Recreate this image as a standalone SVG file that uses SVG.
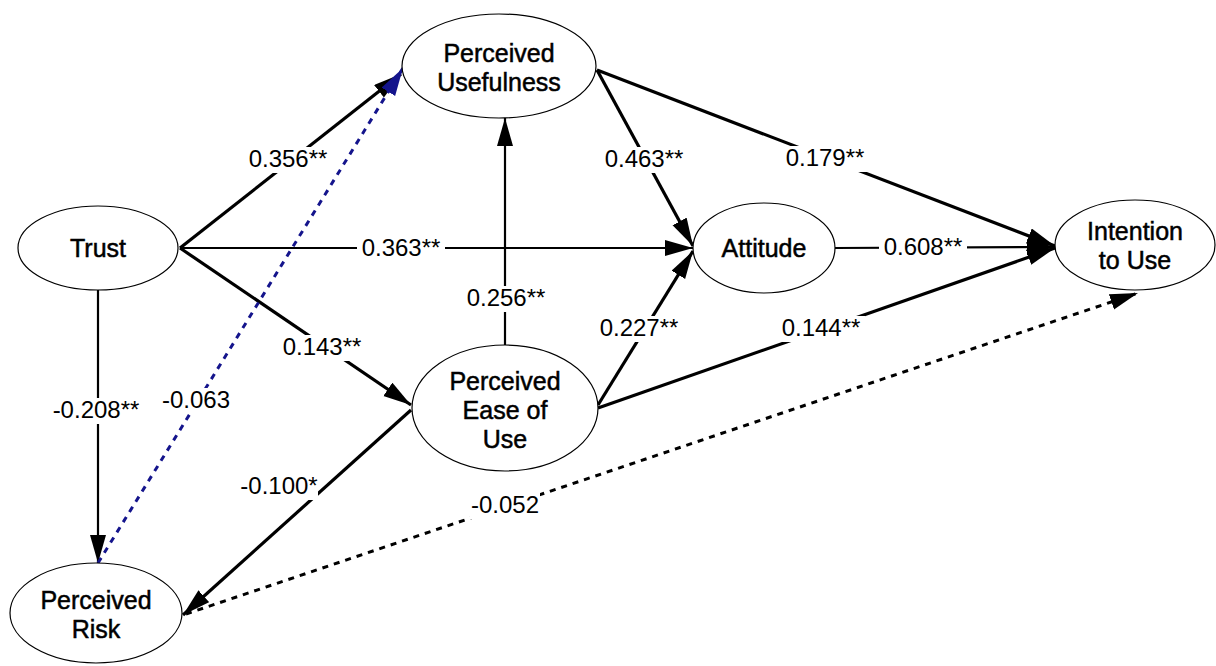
<svg xmlns="http://www.w3.org/2000/svg" width="1216" height="666" viewBox="0 0 1216 666">
<style>
.node ellipse{fill:#fff;stroke:#000;stroke-width:1.2}
.node text{font-family:"Liberation Sans",Arial,sans-serif;font-size:25px;text-anchor:middle;fill:#000;stroke:#000;stroke-width:0.5}
.lbl{font-family:"Liberation Sans",Arial,sans-serif;font-size:24px;text-anchor:middle;fill:#000}
.bg{fill:#fff}
.thick{stroke:#000;stroke-width:3.2;fill:none}
.thin{stroke:#000;stroke-width:2.2;fill:none}
.dot{stroke:#000;stroke-width:3;stroke-dasharray:6 6;fill:none}
.blue{stroke:#14148c;stroke-width:3;stroke-dasharray:6 6;fill:none}
</style>
<defs>
<marker id="ah" markerUnits="userSpaceOnUse" markerWidth="30" markerHeight="18" refX="28" refY="8" orient="auto"><path d="M0,0 L28,8 L0,16 z" fill="#000"/></marker>
<marker id="ahb" markerUnits="userSpaceOnUse" markerWidth="30" markerHeight="18" refX="28" refY="8" orient="auto"><path d="M0,0 L28,8 L0,16 z" fill="#14148c"/></marker>
</defs>
<rect width="1216" height="666" fill="#fff"/>
<g id="connectors">
<line class="thick" x1="180" y1="248" x2="401" y2="74" marker-end="url(#ah)"/>
<line class="thin" x1="180" y1="248" x2="693" y2="248" marker-end="url(#ah)"/>
<line class="thick" x1="180" y1="248" x2="411" y2="405" marker-end="url(#ah)"/>
<line class="thin" x1="98" y1="290" x2="98" y2="563" marker-end="url(#ah)"/>
<line class="thin" x1="505" y1="345" x2="505" y2="118" marker-end="url(#ah)"/>
<line class="thick" x1="597" y1="70" x2="693" y2="246" marker-end="url(#ah)"/>
<line class="thick" x1="597" y1="70" x2="1055" y2="246" marker-end="url(#ah)"/>
<line class="thin" x1="835" y1="248" x2="1055" y2="247" marker-end="url(#ah)"/>
<line class="thick" x1="598" y1="405" x2="693" y2="251" marker-end="url(#ah)"/>
<line class="thick" x1="598" y1="408" x2="1055" y2="248" marker-end="url(#ah)"/>
<line class="thick" x1="411" y1="410" x2="183" y2="615" marker-end="url(#ah)"/>
<line class="dot" x1="186" y1="614" x2="1138" y2="293" marker-end="url(#ah)"/>
<line class="blue" x1="98" y1="563" x2="403" y2="68" marker-end="url(#ahb)"/>
<rect class="bg" x="246" y="147" width="84" height="26"/>
<rect class="bg" x="357" y="236" width="88" height="26"/>
<rect class="bg" x="278" y="335" width="88" height="26"/>
<rect class="bg" x="50" y="398" width="92" height="26"/>
<rect class="bg" x="160" y="388" width="72" height="26"/>
<rect class="bg" x="460" y="286" width="92" height="26"/>
<rect class="bg" x="600" y="147" width="88" height="26"/>
<rect class="bg" x="781" y="146" width="88" height="26"/>
<rect class="bg" x="879" y="235" width="88" height="26"/>
<rect class="bg" x="595" y="316" width="88" height="26"/>
<rect class="bg" x="777" y="316" width="88" height="26"/>
<rect class="bg" x="240" y="474" width="78" height="26"/>
<rect class="bg" x="470" y="493" width="70" height="26"/>
<text class="lbl" x="288" y="167">0.356**</text>
<text class="lbl" x="401" y="256">0.363**</text>
<text class="lbl" x="322" y="355">0.143**</text>
<text class="lbl" x="96" y="418">-0.208**</text>
<text class="lbl" x="196" y="408">-0.063</text>
<text class="lbl" x="506" y="306">0.256**</text>
<text class="lbl" x="644" y="167">0.463**</text>
<text class="lbl" x="825" y="166">0.179**</text>
<text class="lbl" x="923" y="255">0.608**</text>
<text class="lbl" x="639" y="336">0.227**</text>
<text class="lbl" x="821" y="336">0.144**</text>
<text class="lbl" x="279" y="494">-0.100*</text>
<text class="lbl" x="505" y="513">-0.052</text>
</g>
<g id="trust" class="node"><ellipse cx="98" cy="248" rx="80" ry="42"/><text x="98" y="257">Trust</text></g>
<g id="pu" class="node"><ellipse cx="499" cy="66" rx="97" ry="52"/><text x="499" y="62">Perceived</text><text x="499" y="91">Usefulness</text></g>
<g id="peou" class="node"><ellipse cx="505" cy="408" rx="93" ry="63"/><text x="505" y="390">Perceived</text><text x="505" y="419">Ease of</text><text x="505" y="448">Use</text></g>
<g id="attitude" class="node"><ellipse cx="764" cy="248" rx="71" ry="45"/><text x="764" y="257">Attitude</text></g>
<g id="itu" class="node"><ellipse cx="1135" cy="245" rx="80" ry="45"/><text x="1135" y="240">Intention</text><text x="1135" y="269">to Use</text></g>
<g id="pr" class="node"><ellipse cx="96" cy="613" rx="86" ry="50"/><text x="96" y="609">Perceived</text><text x="96" y="638">Risk</text></g>
</svg>
